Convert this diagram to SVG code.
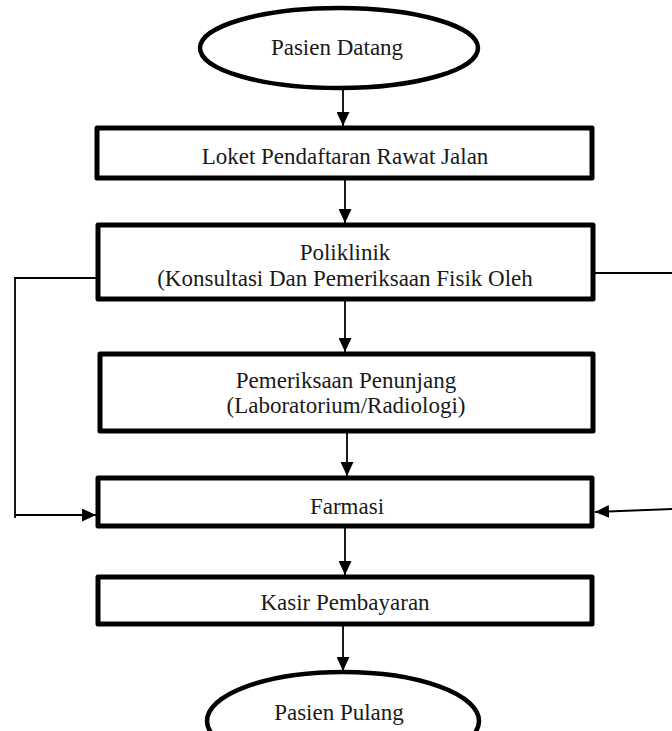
<svg xmlns="http://www.w3.org/2000/svg" width="672" height="731" viewBox="0 0 672 731">
<defs>
<marker id="ah" viewBox="0 0 14 13" refX="14" refY="6.5" markerWidth="14" markerHeight="13" markerUnits="userSpaceOnUse" orient="auto">
<path d="M0,0 L14,6.5 L0,13 Z" fill="#000"/>
</marker>
<style>
.box{fill:#fff;stroke:#000;stroke-width:5;stroke-linejoin:round;}
.ell{fill:#fff;stroke:#000;stroke-width:4.5;}
.t{font-family:"Liberation Serif","Times New Roman",serif;font-size:23px;fill:#1a1a1a;text-anchor:middle;}
.c{fill:none;stroke:#000;stroke-width:1.8;}
</style>
</defs>
<rect width="672" height="731" fill="#fff"/>
<g id="connectors">
<line class="c" x1="343" y1="88" x2="343" y2="126" marker-end="url(#ah)"/>
<line class="c" x1="345" y1="178" x2="345" y2="223" marker-end="url(#ah)"/>
<line class="c" x1="345" y1="300" x2="345" y2="352" marker-end="url(#ah)"/>
<line class="c" x1="347" y1="430" x2="347" y2="476" marker-end="url(#ah)"/>
<line class="c" x1="345" y1="527" x2="345" y2="575" marker-end="url(#ah)"/>
<line class="c" x1="343" y1="624" x2="343" y2="671" marker-end="url(#ah)"/>
<polyline class="c" points="98,278 15,278 15,518"/>
<line class="c" x1="15" y1="515" x2="96" y2="515" marker-end="url(#ah)"/>
<line class="c" x1="593" y1="273" x2="672" y2="273"/>
<line class="c" x1="672" y1="509" x2="595" y2="512" marker-end="url(#ah)"/>
</g>
<g id="start">
<ellipse class="ell" cx="339" cy="48" rx="139" ry="40"/>
<text class="t" x="337" y="55">Pasien Datang</text>
</g>
<g id="loket">
<rect class="box" x="97" y="128" width="495" height="50"/>
<text class="t" x="345" y="164">Loket Pendaftaran Rawat Jalan</text>
</g>
<g id="poliklinik">
<rect class="box" x="98" y="225" width="495" height="74"/>
<text class="t" x="345" y="260">Poliklinik</text>
<text class="t" x="345" y="286">(Konsultasi Dan Pemeriksaan Fisik Oleh</text>
</g>
<g id="penunjang">
<rect class="box" x="100" y="354" width="493" height="77"/>
<text class="t" x="346" y="388">Pemeriksaan Penunjang</text>
<text class="t" x="346" y="413">(Laboratorium/Radiologi)</text>
</g>
<g id="farmasi">
<rect class="box" x="98" y="478" width="494" height="48"/>
<text class="t" x="347" y="514">Farmasi</text>
</g>
<g id="kasir">
<rect class="box" x="98" y="577" width="494" height="47"/>
<text class="t" x="345" y="610">Kasir Pembayaran</text>
</g>
<g id="end">
<ellipse class="ell" cx="343" cy="721" rx="136" ry="49"/>
<text class="t" x="339" y="720">Pasien Pulang</text>
</g>
</svg>
